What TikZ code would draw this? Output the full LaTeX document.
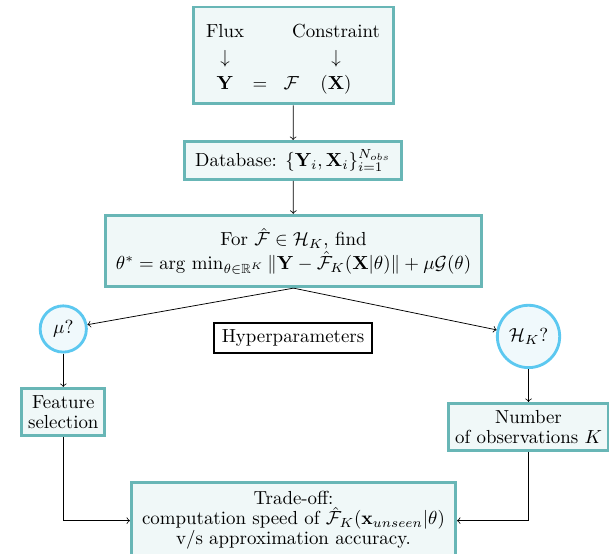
\documentclass[tikz,border=0pt]{standalone}
\usepackage{amsmath,amssymb}
\usepackage{array}
\definecolor{boxline}{RGB}{104,182,182}
\definecolor{boxfill}{RGB}{240,248,248}
\definecolor{ringline}{RGB}{92,200,240}
\definecolor{ringfill}{RGB}{240,249,252}
\begin{document}
\begin{tikzpicture}[x=1cm,y=1cm,
    stage/.style={draw=boxline,line width=1.5pt,fill=boxfill,align=center,
                  font=\fontsize{10}{10.6}\selectfont},
    query/.style={circle,draw=ringline,line width=1.5pt,fill=ringfill,inner sep=1pt},
    tag/.style={draw=black,line width=1pt,fill=white}]
  \useasboundingbox (0,0) rectangle (11.327,10.304);
  \node[stage,minimum width=3.73cm,minimum height=1.76cm] (model) at (5.459,9.272)
    {\renewcommand{\arraystretch}{1.3}%
     \begin{tabular}{@{}wc{12pt}@{}wc{25pt}@{}wc{8pt}@{}wc{39.4pt}@{}}
       \rule{0pt}{12.9pt}Flux & & & Constraint\\
       $\downarrow$ & & & $\downarrow$\\
       $\mathbf{Y}$ & $=$ & $\mathcal{F}$ & $(\mathbf{X})$
     \end{tabular}};
  \node[stage,minimum width=4.04cm,minimum height=0.71cm] (data) at (5.450,7.319)
    {Database: $\{\mathbf{Y}_i,\mathbf{X}_i\}_{i=1}^{N_{obs}}$};
  \node[stage,minimum width=7.0cm,minimum height=1.33cm] (fit) at (5.459,5.636)
    {For $\hat{\mathcal{F}}\in\mathcal{H}_K$, find\\
     $\theta^{*}=\arg\,\min_{\theta\in\mathbb{R}^K}\|\mathbf{Y}-\hat{\mathcal{F}}_K(\mathbf{X}|\theta)\|+\mu\mathcal{G}(\theta)$};
  \node[query,minimum size=0.86cm] (mu) at (1.177,4.185) {$\mu$?};
  \node[query,minimum size=1.16cm] (hk) at (9.830,4.046) {$\mathcal{H}_K$?};
  \node[tag,minimum width=2.95cm,minimum height=0.53cm] (hyper) at (5.450,4.018)
    {Hyperparameters};
  \node[stage,minimum height=0.88cm] (feat) at (1.177,2.641)
    {Feature\\selection};
  \node[stage,minimum height=0.88cm] (nobs) at (9.830,2.362)
    {Number\\of observations $K$};
  \node[stage,minimum width=6.03cm,minimum height=1.42cm] (trade) at (5.459,0.62)
    {Trade-off:\\
     computation speed of $\hat{\mathcal{F}}_K(\mathbf{x}_{unseen}|\theta)$\\
     v/s approximation accuracy.};
  \draw[->] (model) -- (data);
  \draw[->] (data) -- (fit);
  \draw[->] (fit.south) -- (mu);
  \draw[->] (fit.south) -- (hk);
  \draw[->] (mu) -- (feat);
  \draw[->] (hk) -- (nobs);
  \draw[->] (feat) |- (trade);
  \draw[->] (nobs) |- (trade);
\end{tikzpicture}
\end{document}
